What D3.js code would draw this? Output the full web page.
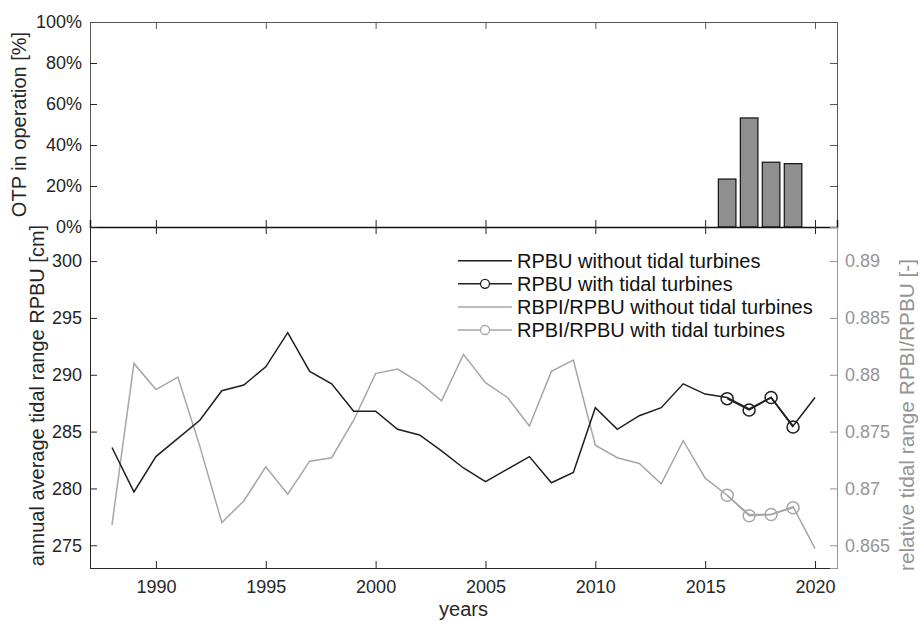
<!DOCTYPE html>
<html><head><meta charset="utf-8">
<script src="https://cdn.jsdelivr.net/npm/d3@7"></script>
<style>
body{margin:0;background:#fff;}
svg{display:block;font-family:"Liberation Sans",Arial,sans-serif;}
</style></head>
<body><svg id="c" width="920" height="621"></svg>
<script>
const years = [1988,1989,1990,1991,1992,1993,1994,1995,1996,1997,1998,1999,2000,2001,2002,2003,2004,2005,2006,2007,2008,2009,2010,2011,2012,2013,2014,2015,2016,2017,2018,2019,2020];
const rpbuWithout = [283.6,279.7,282.8,284.4,286.0,288.6,289.1,290.7,293.7,290.3,289.2,286.8,286.8,285.2,284.7,283.3,281.8,280.6,281.7,282.8,280.5,281.4,287.1,285.2,286.4,287.1,289.2,288.3,288.0,287.0,288.0,285.5,288.0];
const ratioWithout = [0.8668,0.8810,0.8787,0.8798,0.8737,0.8670,0.8689,0.8719,0.8695,0.8724,0.8727,0.8760,0.8801,0.8805,0.8793,0.8777,0.8818,0.8793,0.8780,0.8755,0.8803,0.8813,0.8738,0.8727,0.8722,0.8704,0.8742,0.8709,0.8694,0.8677,0.8677,0.8684,0.8647];
const turbineYears = [2016,2017,2018,2019];
const rpbuWith = [287.9,286.9,288.0,285.4];
const ratioWith = [0.8694,0.8676,0.8677,0.8683];
const otpYears = [2016,2017,2018,2019];
const otpValues = [23.4,53.2,31.6,30.9];
const xTicks = [1990,1995,2000,2005,2010,2015,2020];
const otpTicks = [0,20,40,60,80,100];
const leftTicks = [275,280,285,290,295,300];
const rightTicks = [0.865,0.87,0.875,0.88,0.885,0.89];
const legendLabels = ["RPBU without tidal turbines","RPBU with tidal turbines","RBPI/RPBU without tidal turbines","RPBI/RPBU with tidal turbines"];

const svg = d3.select("#c");
const L=90, R=837, T1=22, B1=227, T2=227, B2=568;
const DARK="#262626", GRAY="#959595", LINEDARK="#1f1f1f", LINEGRAY="#a6a6a6";
const x = d3.scaleLinear().domain([1987,2021]).range([L,R]);
const yTop = d3.scaleLinear().domain([0,100]).range([B1,T1]);
const yL = d3.scaleLinear().domain([273,303]).range([B2,T2]);
const yR = d3.scaleLinear().domain([0.863,0.893]).range([B2,T2]);
const TK=7;

function styleAxis(g,color,fs){
  g.select(".domain").attr("stroke",color).attr("stroke-width",1);
  g.selectAll(".tick line").attr("stroke",color);
  g.selectAll(".tick text").attr("fill",color).style("font-size",fs+"px").style("font-family","'Liberation Sans',Arial,sans-serif");
}

// ---- top panel ----
const barW = (x(2017)-x(2016))*0.8;
svg.append("g").selectAll("rect").data(otpYears).join("rect")
  .attr("x",(d)=>x(d)-barW/2).attr("width",barW)
  .attr("y",(d,i)=>yTop(otpValues[i])).attr("height",(d,i)=>yTop(0)-yTop(otpValues[i]))
  .attr("fill","#8f8f8f").attr("stroke","#111").attr("stroke-width",1.2);

let g = svg.append("g").attr("transform",`translate(${L},0)`)
  .call(d3.axisLeft(yTop).tickValues(otpTicks).tickSize(-TK).tickPadding(8).tickFormat(d=>d+"%"));
styleAxis(g,DARK,18); g.select(".domain").attr("stroke","#555");
g = svg.append("g").attr("transform",`translate(${R},0)`)
  .call(d3.axisRight(yTop).tickValues(otpTicks).tickSize(-TK).tickFormat(""));
styleAxis(g,"#555",18);
g = svg.append("g").attr("transform",`translate(0,${T1})`)
  .call(d3.axisTop(x).tickValues(xTicks).tickSize(-TK).tickFormat(""));
styleAxis(g,"#555",18);
g = svg.append("g").attr("transform",`translate(0,${B1})`)
  .call(d3.axisBottom(x).tickValues(xTicks).tickSize(-TK).tickFormat(""));
styleAxis(g,DARK,18); g.select(".domain").attr("stroke","#111").attr("stroke-width",1.5);

svg.append("text").attr("transform",`translate(26,${(T1+B1)/2}) rotate(-90)`)
  .attr("text-anchor","middle").attr("fill",DARK).style("font-size","20px").text("OTP in operation [%]");

// ---- bottom panel ----
g = svg.append("g").attr("transform",`translate(0,${T2})`)
  .call(d3.axisTop(x).tickValues(xTicks).tickSize(-TK).tickFormat(""));
styleAxis(g,DARK,18); g.select(".domain").remove();
g = svg.append("g").attr("transform",`translate(0,${B2})`)
  .call(d3.axisBottom(x).tickValues(xTicks).tickSize(-TK).tickPadding(12).tickFormat(d3.format("d")));
styleAxis(g,DARK,18);
g = svg.append("g").attr("transform",`translate(${L},0)`)
  .call(d3.axisLeft(yL).tickValues(leftTicks).tickSize(-TK).tickPadding(8));
styleAxis(g,DARK,18);
g = svg.append("g").attr("transform",`translate(${R},0)`)
  .call(d3.axisRight(yR).tickValues(rightTicks).tickSize(-TK).tickPadding(8).tickFormat(d=>String(+d.toFixed(3))));
styleAxis(g,GRAY,18);

svg.append("text").attr("transform",`translate(44,${(T2+B2)/2-2}) rotate(-90)`)
  .attr("text-anchor","middle").attr("fill",DARK).style("font-size","20px").text("annual average tidal range RPBU [cm]");
svg.append("text").attr("transform",`translate(914,415) rotate(-90)`)
  .attr("text-anchor","middle").attr("fill",GRAY).style("font-size","20.8px").text("relative tidal range RPBI/RPBU [-]");
svg.append("text").attr("x",(L+R)/2).attr("y",616).attr("text-anchor","middle")
  .attr("fill",DARK).style("font-size","20px").text("years");

// lines
const lineL = d3.line().x(d=>x(d[0])).y(d=>yL(d[1]));
const lineR = d3.line().x(d=>x(d[0])).y(d=>yR(d[1]));
svg.append("path").datum(years.map((y,i)=>[y,ratioWithout[i]])).attr("d",lineR)
  .attr("fill","none").attr("stroke",LINEGRAY).attr("stroke-width",1.5);
svg.append("path").datum(turbineYears.map((y,i)=>[y,ratioWith[i]])).attr("d",lineR)
  .attr("fill","none").attr("stroke",LINEGRAY).attr("stroke-width",1.5);
svg.append("g").selectAll("circle").data(turbineYears).join("circle")
  .attr("cx",d=>x(d)).attr("cy",(d,i)=>yR(ratioWith[i])).attr("r",6)
  .attr("fill","none").attr("stroke",LINEGRAY).attr("stroke-width",1.5);
svg.append("path").datum(years.map((y,i)=>[y,rpbuWithout[i]])).attr("d",lineL)
  .attr("fill","none").attr("stroke",LINEDARK).attr("stroke-width",1.5);
svg.append("path").datum(turbineYears.map((y,i)=>[y,rpbuWith[i]])).attr("d",lineL)
  .attr("fill","none").attr("stroke",LINEDARK).attr("stroke-width",1.5);
svg.append("g").selectAll("circle").data(turbineYears).join("circle")
  .attr("cx",d=>x(d)).attr("cy",(d,i)=>yL(rpbuWith[i])).attr("r",6)
  .attr("fill","none").attr("stroke",LINEDARK).attr("stroke-width",1.5);

// legend
const legColors=[LINEDARK,LINEDARK,LINEGRAY,LINEGRAY];
const legMarker=[false,true,false,true];
const lg = svg.append("g");
legendLabels.forEach((t,i)=>{
  const yy = 260.7 + i*23.1;
  lg.append("line").attr("x1",458).attr("x2",512).attr("y1",yy).attr("y2",yy)
    .attr("stroke",legColors[i]).attr("stroke-width",1.5);
  if(legMarker[i]) lg.append("circle").attr("cx",485).attr("cy",yy).attr("r",4.5)
    .attr("fill","#fff").attr("stroke",legColors[i]).attr("stroke-width",1.3);
  lg.append("text").attr("x",517).attr("y",yy).attr("dy","0.35em").attr("fill","#111")
    .style("font-size","20px").text(t);
});
</script></body></html>
